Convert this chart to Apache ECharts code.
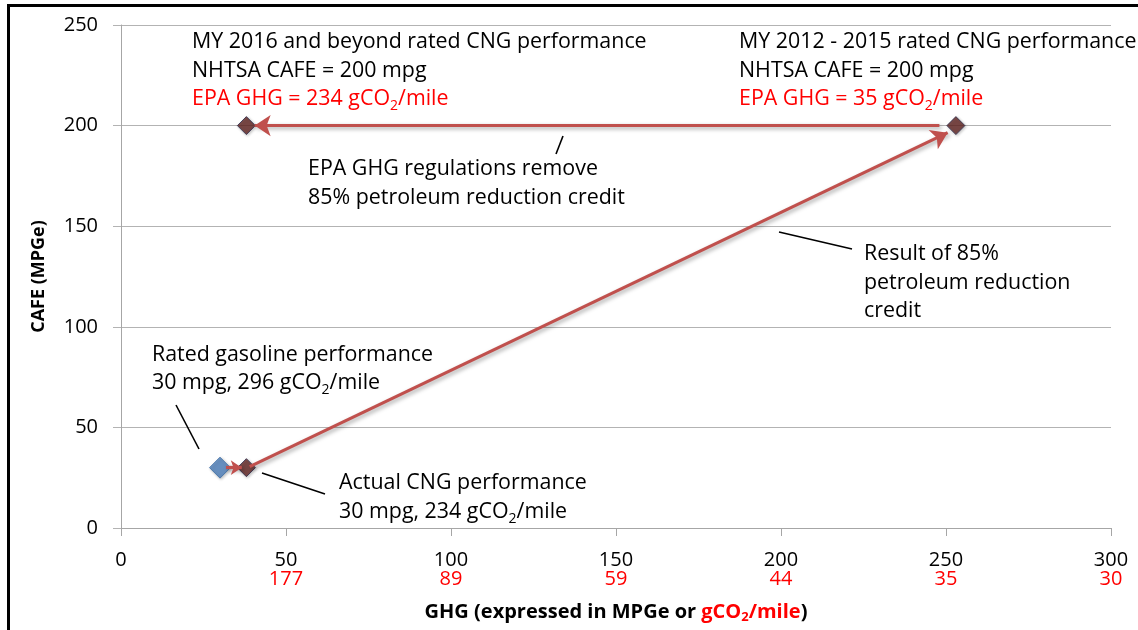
<!DOCTYPE html>
<html>
<head>
<meta charset="utf-8">
<script src="https://cdn.jsdelivr.net/npm/echarts@6/dist/echarts.min.js"></script>
<style>
  html, body { margin: 0; padding: 0; background: #fff; }
  #chart { width: 1138px; height: 630px; }
</style>
</head>
<body>
<div id="chart"></div>
<script>
// data points (x = GHG in MPGe, y = CAFE in MPGe)
const gasolinePoints = [[30, 30]];
const cngPoints = [[38, 30], [38, 200], [253, 200]];

// tick labels
const xTickValues = [0, 50, 100, 150, 200, 250, 300];
const xGco2Labels = ['', '177', '89', '59', '44', '35', '30'];

// arrows between points, in axis units
const arrowStarts = [[248, 200], [39, 30.5], [31.8, 30]];
const arrowEnds = [[40.5, 200], [250.5, 196.5], [36.6, 30]];

const FONT = "'Open Sans', 'Noto Sans', sans-serif";
const RED = '#ff0000';
const ARROW_RED = '#c0504d';

const chartDom = document.getElementById('chart');
const chart = echarts.init(chartDom);

// rich styles for subscript text (gCO2)
function textRich (size, lh) {
  return {
    r: { fill: RED, fontSize: size, fontFamily: FONT, lineHeight: lh },
    rs: { fill: RED, fontSize: 14, fontFamily: FONT, lineHeight: 19, verticalAlign: 'bottom' },
    k: { fill: '#000', fontSize: 14, fontFamily: FONT, lineHeight: 19, verticalAlign: 'bottom' }
  };
}

function note (x, top, text, lh) {
  return {
    type: 'text',
    left: x,
    top: top,
    z: 20,
    style: {
      text: text,
      fill: '#000',
      fontSize: 21.4,
      fontFamily: FONT,
      lineHeight: lh,
      rich: textRich(21.4, lh)
    }
  };
}

function leader (x1, y1, x2, y2) {
  return {
    type: 'line',
    z: 20,
    shape: { x1: x1, y1: y1, x2: x2, y2: y2 },
    style: { stroke: '#000', lineWidth: 1.6 }
  };
}

const markLineData = arrowStarts.map((s, i) => [
  { coord: s, symbol: 'none' },
  { coord: arrowEnds[i], symbol: 'arrow', symbolSize: i === 2 ? 11 : 16 }
]);

chart.setOption({
  backgroundColor: '#fff',
  animation: false,
  grid: {
    left: 121,
    right: 27,
    top: 25,
    bottom: 102,
    outerBoundsMode: 'none'
  },
  xAxis: {
    type: 'value',
    min: 0,
    max: 300,
    interval: 50,
    name: 'GHG (expressed in MPGe or {r|gCO}{rs|2}{r|/mile})',
    nameLocation: 'middle',
    nameGap: 72,
    nameTextStyle: {
      color: '#000',
      fontWeight: 'bold',
      fontSize: 20,
      fontFamily: FONT,
      rich: {
        r: { color: RED, fontWeight: 'bold', fontSize: 20, fontFamily: FONT, lineHeight: 24 },
        rs: { color: RED, fontWeight: 'bold', fontSize: 13, fontFamily: FONT, lineHeight: 16, verticalAlign: 'bottom' }
      }
    },
    axisLine: { show: true, lineStyle: { color: '#a6a6a6', width: 1 } },
    axisTick: { show: true, length: 8, lineStyle: { color: '#a6a6a6' } },
    splitLine: { show: false },
    axisLabel: {
      margin: 23,
      formatter: (v) => {
        const i = xTickValues.indexOf(v);
        return '{a|' + v + '}\n{b|' + (xGco2Labels[i] || ' ') + '}';
      },
      rich: {
        a: { color: '#000', fontSize: 20, fontFamily: FONT, lineHeight: 19 },
        b: { color: RED, fontSize: 20, fontFamily: FONT, lineHeight: 19 }
      }
    }
  },
  yAxis: {
    type: 'value',
    min: 0,
    max: 250,
    interval: 50,
    name: 'CAFE (MPGe)',
    nameLocation: 'middle',
    nameGap: 73,
    nameTextStyle: { color: '#000', fontWeight: 'bold', fontSize: 18, fontFamily: FONT },
    axisLine: { show: true, lineStyle: { color: '#a6a6a6', width: 1 } },
    axisTick: { show: true, length: 8, lineStyle: { color: '#b3b3b3' } },
    splitLine: { show: true, lineStyle: { color: '#b3b3b3', width: 1 } },
    axisLabel: { margin: 23, color: '#000', fontSize: 20, fontFamily: FONT }
  },
  series: [
    {
      name: 'Rated gasoline',
      type: 'scatter',
      symbol: 'diamond',
      symbolSize: 21,
      z: 3,
      itemStyle: {
        color: '#4f81bd',
        borderColor: '#3f6fa8',
        borderWidth: 1,
        shadowBlur: 3,
        shadowColor: 'rgba(0,0,0,0.3)',
        shadowOffsetX: 1,
        shadowOffsetY: 1
      },
      data: gasolinePoints
    },
    {
      name: 'CNG',
      type: 'scatter',
      symbol: 'diamond',
      symbolSize: 18,
      z: 3,
      itemStyle: {
        color: '#632523',
        borderColor: '#2e2d4d',
        borderWidth: 1,
        shadowBlur: 3,
        shadowColor: 'rgba(0,0,0,0.3)',
        shadowOffsetX: 1,
        shadowOffsetY: 1
      },
      data: cngPoints
    },
    {
      name: 'arrows',
      type: 'scatter',
      z: 10,
      data: [],
      itemStyle: { color: ARROW_RED },
      markLine: {
        silent: true,
        symbol: ['none', 'arrow'],
        symbolSize: 16,
        label: { show: false },
        itemStyle: { color: ARROW_RED },
        lineStyle: {
          type: 'solid',
          color: ARROW_RED,
          width: 3.2,
          shadowBlur: 4,
          shadowColor: 'rgba(0,0,0,0.35)',
          shadowOffsetX: 2,
          shadowOffsetY: 2
        },
        data: markLineData
      }
    }
  ],
  graphic: [
    {
      type: 'rect',
      z: 30,
      shape: { x: 8.5, y: 5.5, width: 1300, height: 800 },
      style: { fill: 'none', stroke: '#000', lineWidth: 3 }
    },
    note(192, 28, 'MY 2016 and beyond rated CNG performance\nNHTSA CAFE = 200 mpg\n{r|EPA GHG = 234 gCO}{rs|2}{r|/mile}', 28.5),
    note(739, 28, 'MY 2012 - 2015 rated CNG performance\nNHTSA CAFE = 200 mpg\n{r|EPA GHG = 35 gCO}{rs|2}{r|/mile}', 28.5),
    note(308, 155, 'EPA GHG regulations remove\n85% petroleum reduction credit', 28.5),
    note(864, 240, 'Result of 85%\npetroleum reduction\ncredit', 28.5),
    note(152, 341, 'Rated gasoline performance\n30 mpg, 296 gCO{k|2}/mile', 28),
    note(339, 469, 'Actual CNG performance\n30 mpg, 234 gCO{k|2}/mile', 28.5),
    leader(176, 405, 199, 449),
    leader(262, 473, 325, 494),
    leader(556, 154, 563, 136),
    leader(779, 232, 852, 249)
  ]
});
</script>
</body>
</html>
